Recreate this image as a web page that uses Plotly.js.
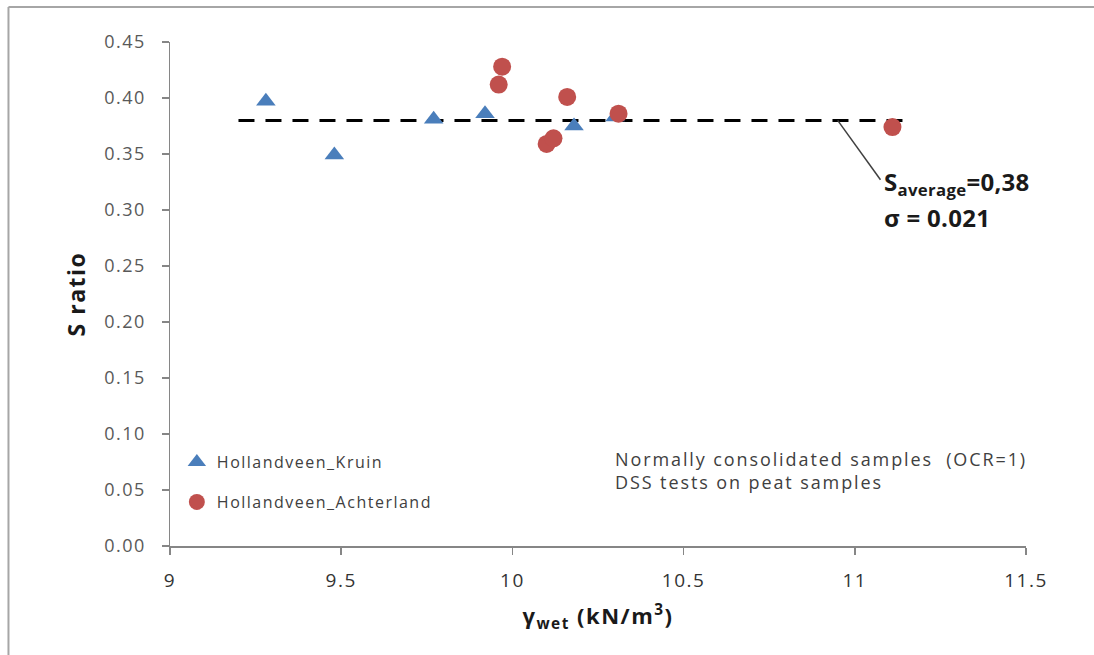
<!DOCTYPE html>
<html>
<head>
<meta charset="utf-8">
<script src="https://cdn.plot.ly/plotly-3.0.1.min.js"></script>
<style>
html,body{margin:0;padding:0;background:#fff;}
#chart{width:1094px;height:655px;}
text{letter-spacing:1.5px;}
g.annotation[data-index="0"] text, g.annotation[data-index="1"] text{letter-spacing:0.3px;}
g.annotation[data-index="2"] text{letter-spacing:1.9px;}
</style>
</head>
<body>
<div id="chart"></div>
<script>
// Data
const kruinGamma = [9.28, 9.48, 9.77, 9.92, 10.18, 10.30];
const kruinS     = [0.397, 0.349, 0.381, 0.386, 0.375, 0.383];
const achterGamma = [9.97, 9.96, 10.16, 10.31, 10.10, 10.12, 11.11];
const achterS     = [0.428, 0.412, 0.401, 0.386, 0.359, 0.364, 0.374];
const avgLineX = [9.2, 11.15];
const avgValue = 0.38;
const avgLineY = [avgValue, avgValue];
const leaderX = [10.95, 11.075];
const leaderY = [0.38, 0.327];
const xTicks = [9, 9.5, 10, 10.5, 11, 11.5];
const xTickText = ['9', '9.5', '10', '10.5', '11', '11.5'];
const yTicks = [0, 0.05, 0.1, 0.15, 0.2, 0.25, 0.3, 0.35, 0.4, 0.45];
const yTickText = ['0.00','0.05','0.10','0.15','0.20','0.25','0.30','0.35','0.40','0.45'];

const FONT = 'Open Sans, Lato, sans-serif';

const traces = [
  {
    x: avgLineX, y: avgLineY, mode: 'lines', showlegend: false, hoverinfo: 'skip',
    line: {color: '#000000', width: 3, dash: '16px,11px'}
  },
  {
    x: kruinGamma, y: kruinS, mode: 'markers', name: 'Hollandveen_Kruin',
    legendgroup: 'a',
    marker: {symbol: 'triangle-up', size: 17, color: '#4A7EBB'}
  },
  {
    x: achterGamma, y: achterS, mode: 'markers', name: 'Hollandveen_Achterland',
    legendgroup: 'b',
    marker: {symbol: 'circle', size: 18, color: '#C0504D'}
  }
];

const layout = {
  width: 1094, height: 655,
  margin: {l: 170, r: 68, t: 42, b: 109},
  paper_bgcolor: '#ffffff', plot_bgcolor: '#ffffff',
  font: {family: FONT, color: '#404040'},
  showlegend: true,
  legend: {
    x: 0.008, y: 0.2, xanchor: 'left', yanchor: 'top',
    bgcolor: 'rgba(0,0,0,0)', tracegroupgap: 16,
    traceorder: 'grouped',
    font: {family: FONT, size: 16, color: '#404040'}
  },
  xaxis: {
    range: [9, 11.5], tickmode: 'array', tickvals: xTicks, ticktext: xTickText,
    showgrid: false, zeroline: false, showline: true, linecolor: '#868686', linewidth: 1.5,
    ticks: 'outside', ticklen: 7, tickcolor: '#868686', tickwidth: 1.5,
    ticklabelstandoff: 10,
    tickfont: {family: FONT, size: 19, color: '#333333'},
    title: {text: 'γ<sub>wet</sub> (kN/m<sup>3</sup>)', standoff: 16,
            font: {family: FONT, size: 22, color: '#1a1a1a', weight: 'bold'}}
  },
  yaxis: {
    range: [0, 0.45], tickmode: 'array', tickvals: yTicks, ticktext: yTickText,
    showgrid: false, zeroline: false, showline: true, linecolor: '#868686', linewidth: 1.5,
    ticks: 'outside', ticklen: 7, tickcolor: '#868686', tickwidth: 1.5,
    ticklabelstandoff: 12,
    tickfont: {family: FONT, size: 18, color: '#595959'},
    title: {text: 'S ratio', standoff: 12,
            font: {family: FONT, size: 23, color: '#1a1a1a', weight: 'bold'}}
  },
  shapes: [
    {type: 'line', xref: 'paper', yref: 'paper', x0: -0.1887, x1: 1.1, y0: 1.0694, y1: 1.0694,
     line: {color: '#a6a6a6', width: 2}, layer: 'below'},
    {type: 'line', xref: 'paper', yref: 'paper', x0: -0.1887, x1: -0.1887, y0: 1.0694, y1: -0.25,
     line: {color: '#a6a6a6', width: 2}, layer: 'below'},
    {type: 'line', xref: 'x', yref: 'y', x0: leaderX[0], y0: leaderY[0], x1: leaderX[1], y1: leaderY[1],
     line: {color: '#404040', width: 1.5}}
  ],
  annotations: [
    {xref: 'x', yref: 'y', x: 11.08, y: 0.342, xanchor: 'left', yanchor: 'top', align: 'left',
     showarrow: false,
     text: 'S<sub>average</sub>=0,38',
     font: {family: FONT, size: 24, color: '#1a1a1a', weight: 'bold'}},
    {xref: 'x', yref: 'y', x: 11.08, y: 0.310, xanchor: 'left', yanchor: 'top', align: 'left',
     showarrow: false,
     text: 'σ = 0.021',
     font: {family: FONT, size: 24, color: '#1a1a1a', weight: 'bold'}},
    {xref: 'x', yref: 'y', x: 10.295, y: 0.09, xanchor: 'left', yanchor: 'top', align: 'left',
     showarrow: false,
     text: 'Normally consolidated samples  (OCR=1)<br>DSS tests on peat samples',
     font: {family: FONT, size: 18, color: '#404040'}}
  ]
};

Plotly.newPlot('chart', traces, layout, {displayModeBar: false, staticPlot: true});
</script>
</body>
</html>
